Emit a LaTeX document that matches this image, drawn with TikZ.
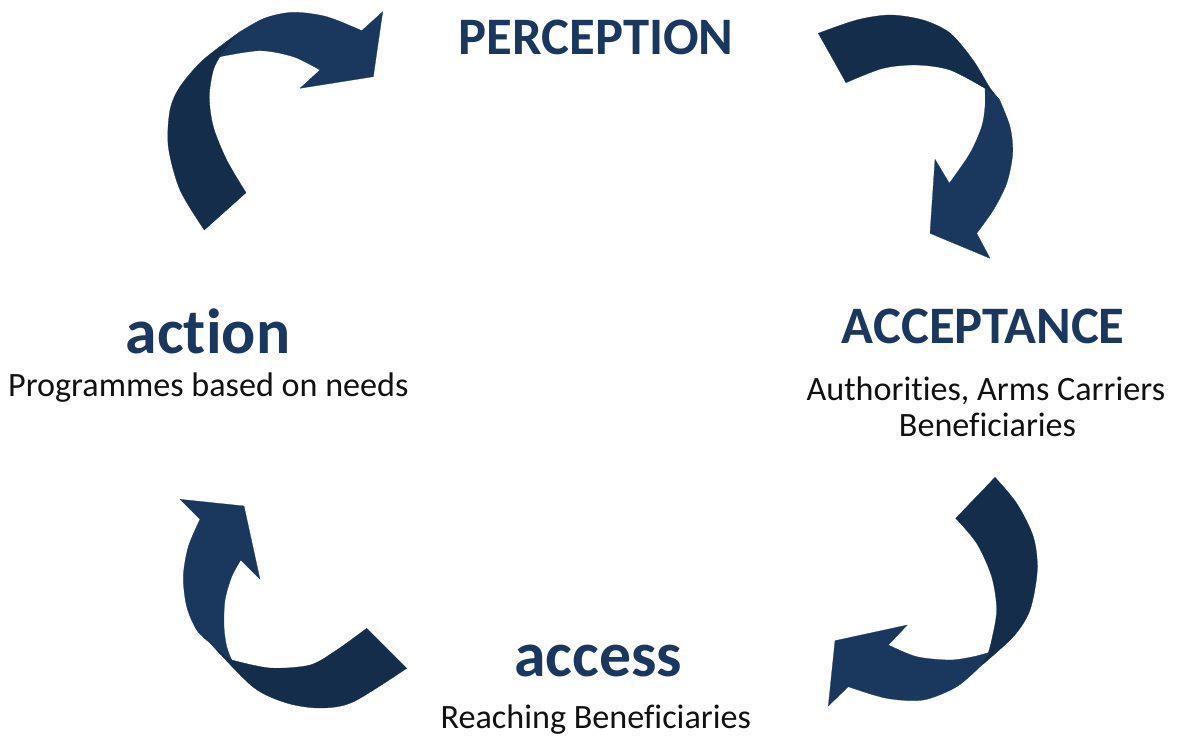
\documentclass[tikz,border=0pt]{standalone}
\usepackage{fontspec}
\setmainfont[Ligatures=NoCommon]{Carlito}
\usepackage{tikz}
\definecolor{navy}{HTML}{1A385F}
\definecolor{headc}{HTML}{1A375E}
\definecolor{tailc}{HTML}{132D4B}
\definecolor{body}{HTML}{111111}
\tikzset{
  head/.style={fill=headc, draw=headc, line width=0.2pt, line join=round},
  tail/.style={fill=tailc, draw=tailc, line width=0.2pt, line join=round},
  title/.style={text=navy, font=\fontsize{39.5}{44}\selectfont\bfseries, anchor=base, inner sep=0pt},
  word/.style={text=navy, font=\fontsize{47.8}{52}\selectfont\bfseries, anchor=base, inner sep=0pt},
  sub/.style={text=body, font=\fontsize{25.6}{30}\selectfont, anchor=base, inner sep=0pt},
}

\begin{document}
\begin{tikzpicture}[x=0.75pt, y=-0.75pt]
  \useasboundingbox (0,0) rectangle (1181,742);
  % top left arrow
  \filldraw[tail] plot[smooth] coordinates {(204.3,230) (180,190) (168.3,146.7) (170,110) (180,86.7) (203,60) (240,31.7)}
    -- plot[smooth] coordinates {(220,56.7) (213.3,70) (209.3,96.7) (213.3,126.7) (226.7,160) (246,192.7)} -- cycle;
  \filldraw[head] plot[smooth] coordinates {(240,31.7) (265,18) (293.3,12.3) (326.7,16.7) (361.7,30.7)}
    -- (382.7,11.7) -- (373.3,76.7) -- (300,88.3)
    -- plot[smooth] coordinates {(320,70) (293.3,56.7) (260,50.7) (220,56.7)} -- cycle;
  % top right arrow
  \filldraw[tail] plot[smooth] coordinates {(818.3,33.3) (856.7,20) (890,15) (923,20) (950,33) (973,60) (990,88) (999.3,99.3)}
    -- plot[smooth] coordinates {(985,88.3) (950,70) (916.7,65) (883,68.3) (846,82.7)} -- cycle;
  \filldraw[head] plot[smooth] coordinates {(999.3,99.3) (1010,126.7) (1012.7,153.3) (1006.7,183.3) (993.3,210) (976.7,233.3)}
    -- (990,258.3) -- (930,233.3) -- (935,159.3)
    -- plot[smooth] coordinates {(949.3,183.3) (970,153.3) (981.7,126.7) (985,106.7) (985,88.3)} -- cycle;
  % bottom right arrow
  \filldraw[tail] plot[smooth] coordinates {(995,477.3) (1016.7,503.3) (1033.3,536.7) (1037.3,570) (1030,610) (1013.3,636.7) (980,666.7)}
    -- plot[smooth] coordinates {(988.3,652.7) (991.7,640) (996.7,610) (991.7,576.7) (976.7,543.3) (955.7,518.3)} -- cycle;
  \filldraw[head] plot[smooth] coordinates {(980,666.7) (956.7,686.7) (923.3,700) (886.7,698.3) (848.3,686.7)}
    -- (828.3,706) -- (835,640.7) -- (907.3,625)
    -- plot[smooth] coordinates {(888.3,645) (916.7,656.7) (950,660) (973.3,656.7) (988.3,652.7)} -- cycle;
  % bottom left arrow
  \filldraw[tail] plot[smooth] coordinates {(231.7,660) (270,668) (310,665) (336.7,650) (366.7,628.3)}
    -- (406.7,668.3)
    -- plot[smooth] coordinates {(406.7,668.3) (353,702) (320,708) (286.7,703) (253,687) (210,643)} -- cycle;
  \filldraw[head] plot[smooth] coordinates {(200,519.3) (188.3,546.7) (183.3,576.7) (186.7,606.7) (196.7,630) (210,643)}
    -- plot[smooth] coordinates {(231.7,660) (226.7,646.7) (224,626.7) (225,600) (231.7,576.7) (240.7,560)}
    -- (260,579.3) -- (244,506) -- (180,499.3) -- cycle;
  % labels
  \node[title] (perception) at (596,55) {PERCEPTION};
  \node[title] (acceptance) at (983.3,343.3) {ACCEPTANCE};
  \node[sub] (acceptsub) at (985.8,400) {Authorities, Arms Carriers};
  \node[sub] (acceptsub2) at (987.5,436.7) {Beneficiaries};
  \node[word] (action) at (208,353) {action};
  \node[sub] (actionsub) at (208.3,396.7) {Programmes based on needs};
  \node[word] (access) at (598.3,676.7) {access};
  \node[sub] (accesssub) at (595.8,728.3) {Reaching Beneficiaries};
\end{tikzpicture}
\end{document}
